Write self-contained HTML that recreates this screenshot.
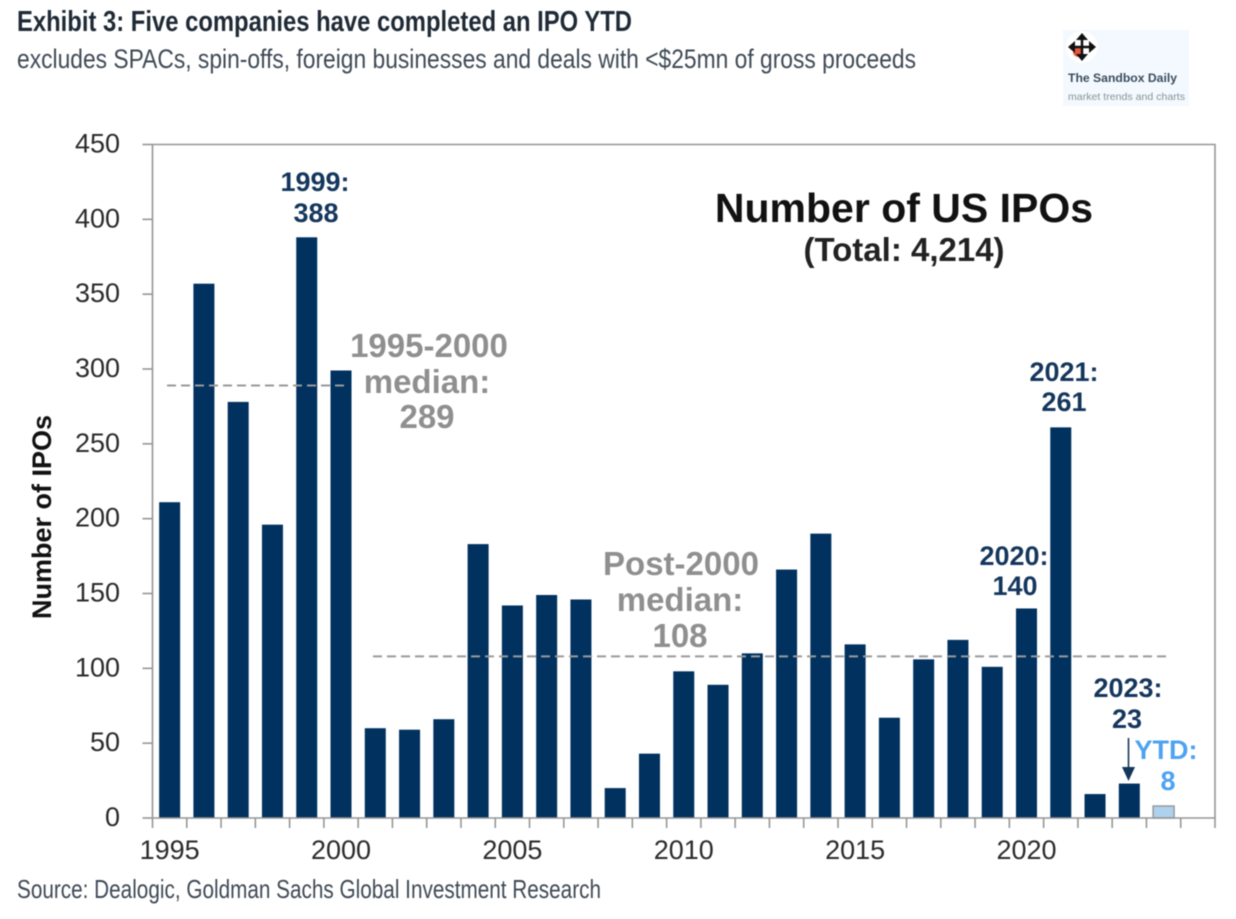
<!DOCTYPE html>
<html lang="en">
<head>
<meta charset="utf-8">
<title>Number of US IPOs</title>
<style>
html,body{margin:0;padding:0;background:#fff;}
#wrap{position:relative;width:1236px;height:919px;overflow:hidden;background:#fff;}
svg{position:absolute;left:0;top:0;font-family:"Liberation Sans",sans-serif;filter:blur(0.4px);}
</style>
</head>
<body>
<div id="wrap">
<svg id="chart" width="1236" height="919" viewBox="0 0 1236 919">
  <text x="17" y="31" font-size="29" font-weight="bold" fill="#1f2a36" textLength="615" lengthAdjust="spacingAndGlyphs">Exhibit 3: Five companies have completed an IPO YTD</text>
  <text x="17" y="68" font-size="27" fill="#3f4a56" textLength="899" lengthAdjust="spacingAndGlyphs">excludes SPACs, spin-offs, foreign businesses and deals with &lt;$25mn of gross proceeds</text>

  <g>
    <rect x="1063" y="30" width="126" height="76" fill="#f3f9fe"/>
    <circle cx="1082" cy="47" r="16" fill="#fff"/>
    <circle cx="1078" cy="52" r="5" fill="#e8583c"/>
    <g>
      <path d="M1082 36V58M1071 47H1093" stroke="#111" stroke-width="2.5" fill="none"/>
      <path d="M1082 33l6 7h-12zM1082 61l6-7h-12zM1068 47l7-6v12zM1096 47l-7-6v12z" fill="#111"/>
    </g>
    <text x="1068" y="82" font-size="12" font-weight="bold" fill="#3b4c5c" textLength="109" lengthAdjust="spacingAndGlyphs">The Sandbox Daily</text>
    <text x="1068" y="100" font-size="10.5" fill="#8a929a" textLength="117" lengthAdjust="spacingAndGlyphs">market trends and charts</text>
  </g>

  <g id="plot"></g>

  <text transform="translate(51,517) rotate(-90)" text-anchor="middle" font-size="27" font-weight="bold" fill="#111">Number of IPOs</text>

  <text x="904" y="222" text-anchor="middle" font-size="41" font-weight="bold" fill="#111">Number of US IPOs</text>
  <text x="904" y="261" text-anchor="middle" font-size="33" font-weight="bold" fill="#222">(Total: 4,214)</text>

  <g font-size="27" font-weight="bold" fill="#14365c" text-anchor="middle">
    <text x="315" y="191">1999:</text>
    <text x="316" y="222">388</text>
    <text x="1064" y="381">2021:</text>
    <text x="1064" y="411">261</text>
    <text x="1014" y="565">2020:</text>
    <text x="1015" y="595">140</text>
    <text x="1128" y="697">2023:</text>
    <text x="1127" y="728">23</text>
  </g>
  <g font-size="27" font-weight="bold" fill="#4da3f0" text-anchor="middle">
    <text x="1166" y="759">YTD:</text>
    <text x="1168" y="790">8</text>
  </g>
  <g>
    <line x1="1128.500" y1="738" x2="1128.500" y2="770" stroke="#14365c" stroke-width="1.6"/>
    <path d="M1122 767h13l-6.500 14z" fill="#14365c"/>
  </g>

  <g font-size="33" font-weight="bold" fill="#8f8f8f" text-anchor="middle">
    <text x="429" y="357">1995-2000</text>
    <text x="427" y="393">median:</text>
    <text x="427" y="428">289</text>
    <text x="681" y="575">Post-2000</text>
    <text x="680" y="611">median:</text>
    <text x="680" y="647">108</text>
  </g>

  <text x="17" y="898" font-size="26" fill="#3f4a56" textLength="584" lengthAdjust="spacingAndGlyphs">Source: Dealogic, Goldman Sachs Global Investment Research</text>
</svg>
</div>
<script>
const years = [1995,1996,1997,1998,1999,2000,2001,2002,2003,2004,2005,2006,2007,2008,2009,2010,2011,2012,2013,2014,2015,2016,2017,2018,2019,2020,2021,2022,2023,2024];
const ipoCounts = [211,357,278,196,388,299,60,59,66,183,142,149,146,20,43,98,89,110,166,190,116,67,106,119,101,140,261,16,23,8];
const yTicks = [0,50,100,150,200,250,300,350,400,450];
const xTickLabels = [1995,2000,2005,2010,2015,2020];
const medianEarly = 289;
const medianLate = 108;
const ytdYear = 2024;
const yMax = 450;
const bandCount = 31;

const NS = 'http://www.w3.org/2000/svg';
const plot = document.getElementById('plot');
const left = 152.5, right = 1215, top_ = 144.5, bottom = 818;
const band = (right - left) / bandCount;
const xScale = function (year) { return left + band * (year - years[0]); };
const yScale = function (v) { return bottom - (v / yMax) * (bottom - top_); };

function make(tag, attrs) {
  const el = document.createElementNS(NS, tag);
  for (const k in attrs) el.setAttribute(k, attrs[k]);
  plot.appendChild(el);
  return el;
}

years.forEach(function (yr, i) {
  const y = yScale(ipoCounts[i]);
  const isYtd = yr === ytdYear;
  const bar = make('rect', {
    x: xScale(yr) + band / 2 - 10.5,
    y: y,
    width: 21,
    height: bottom - y,
    fill: isYtd ? '#aed1ee' : '#00315f',
    stroke: isYtd ? '#9a9a9a' : 'none',
    'stroke-width': isYtd ? 1.5 : 0
  });
  
  
});

const frame = make('path', {
  d: 'M' + left + ' ' + bottom + 'V' + top_ + 'H' + right + 'V' + bottom + 'H' + left,
  fill: 'none', stroke: '#969696', 'stroke-width': 1.6
});



yTicks.forEach(function (t) {
  const y = yScale(t);
  const tick = make('line', { x1: left - 10, x2: left, y1: y, y2: y, stroke: '#969696', 'stroke-width': 1.6 });
  
  
  const label = make('text', { x: 120, y: y + 8, 'text-anchor': 'end', 'font-size': 27, fill: '#2b2b2b' });
  label.textContent = t;
  
  
});

for (let i = 0; i <= bandCount; i++) {
  const x = left + band * i;
  const tick = make('line', { x1: x, x2: x, y1: bottom, y2: bottom + 10, stroke: '#969696', 'stroke-width': 1.6 });
  
  
}

xTickLabels.forEach(function (yr) {
  const label = make('text', { x: xScale(yr) + band / 2, y: 859, 'text-anchor': 'middle', 'font-size': 27, fill: '#2b2b2b' });
  label.textContent = yr;
  
  
});

const earlyLine = make('line', {
  x1: 167, x2: 345, y1: yScale(medianEarly), y2: yScale(medianEarly),
  stroke: '#9a9a9a', 'stroke-width': 2, 'stroke-dasharray': '9 5'
});



const lateLine = make('line', {
  x1: 373, x2: 1168, y1: yScale(medianLate), y2: yScale(medianLate),
  stroke: '#9a9a9a', 'stroke-width': 2, 'stroke-dasharray': '9 5'
});


</script>
</body>
</html>
